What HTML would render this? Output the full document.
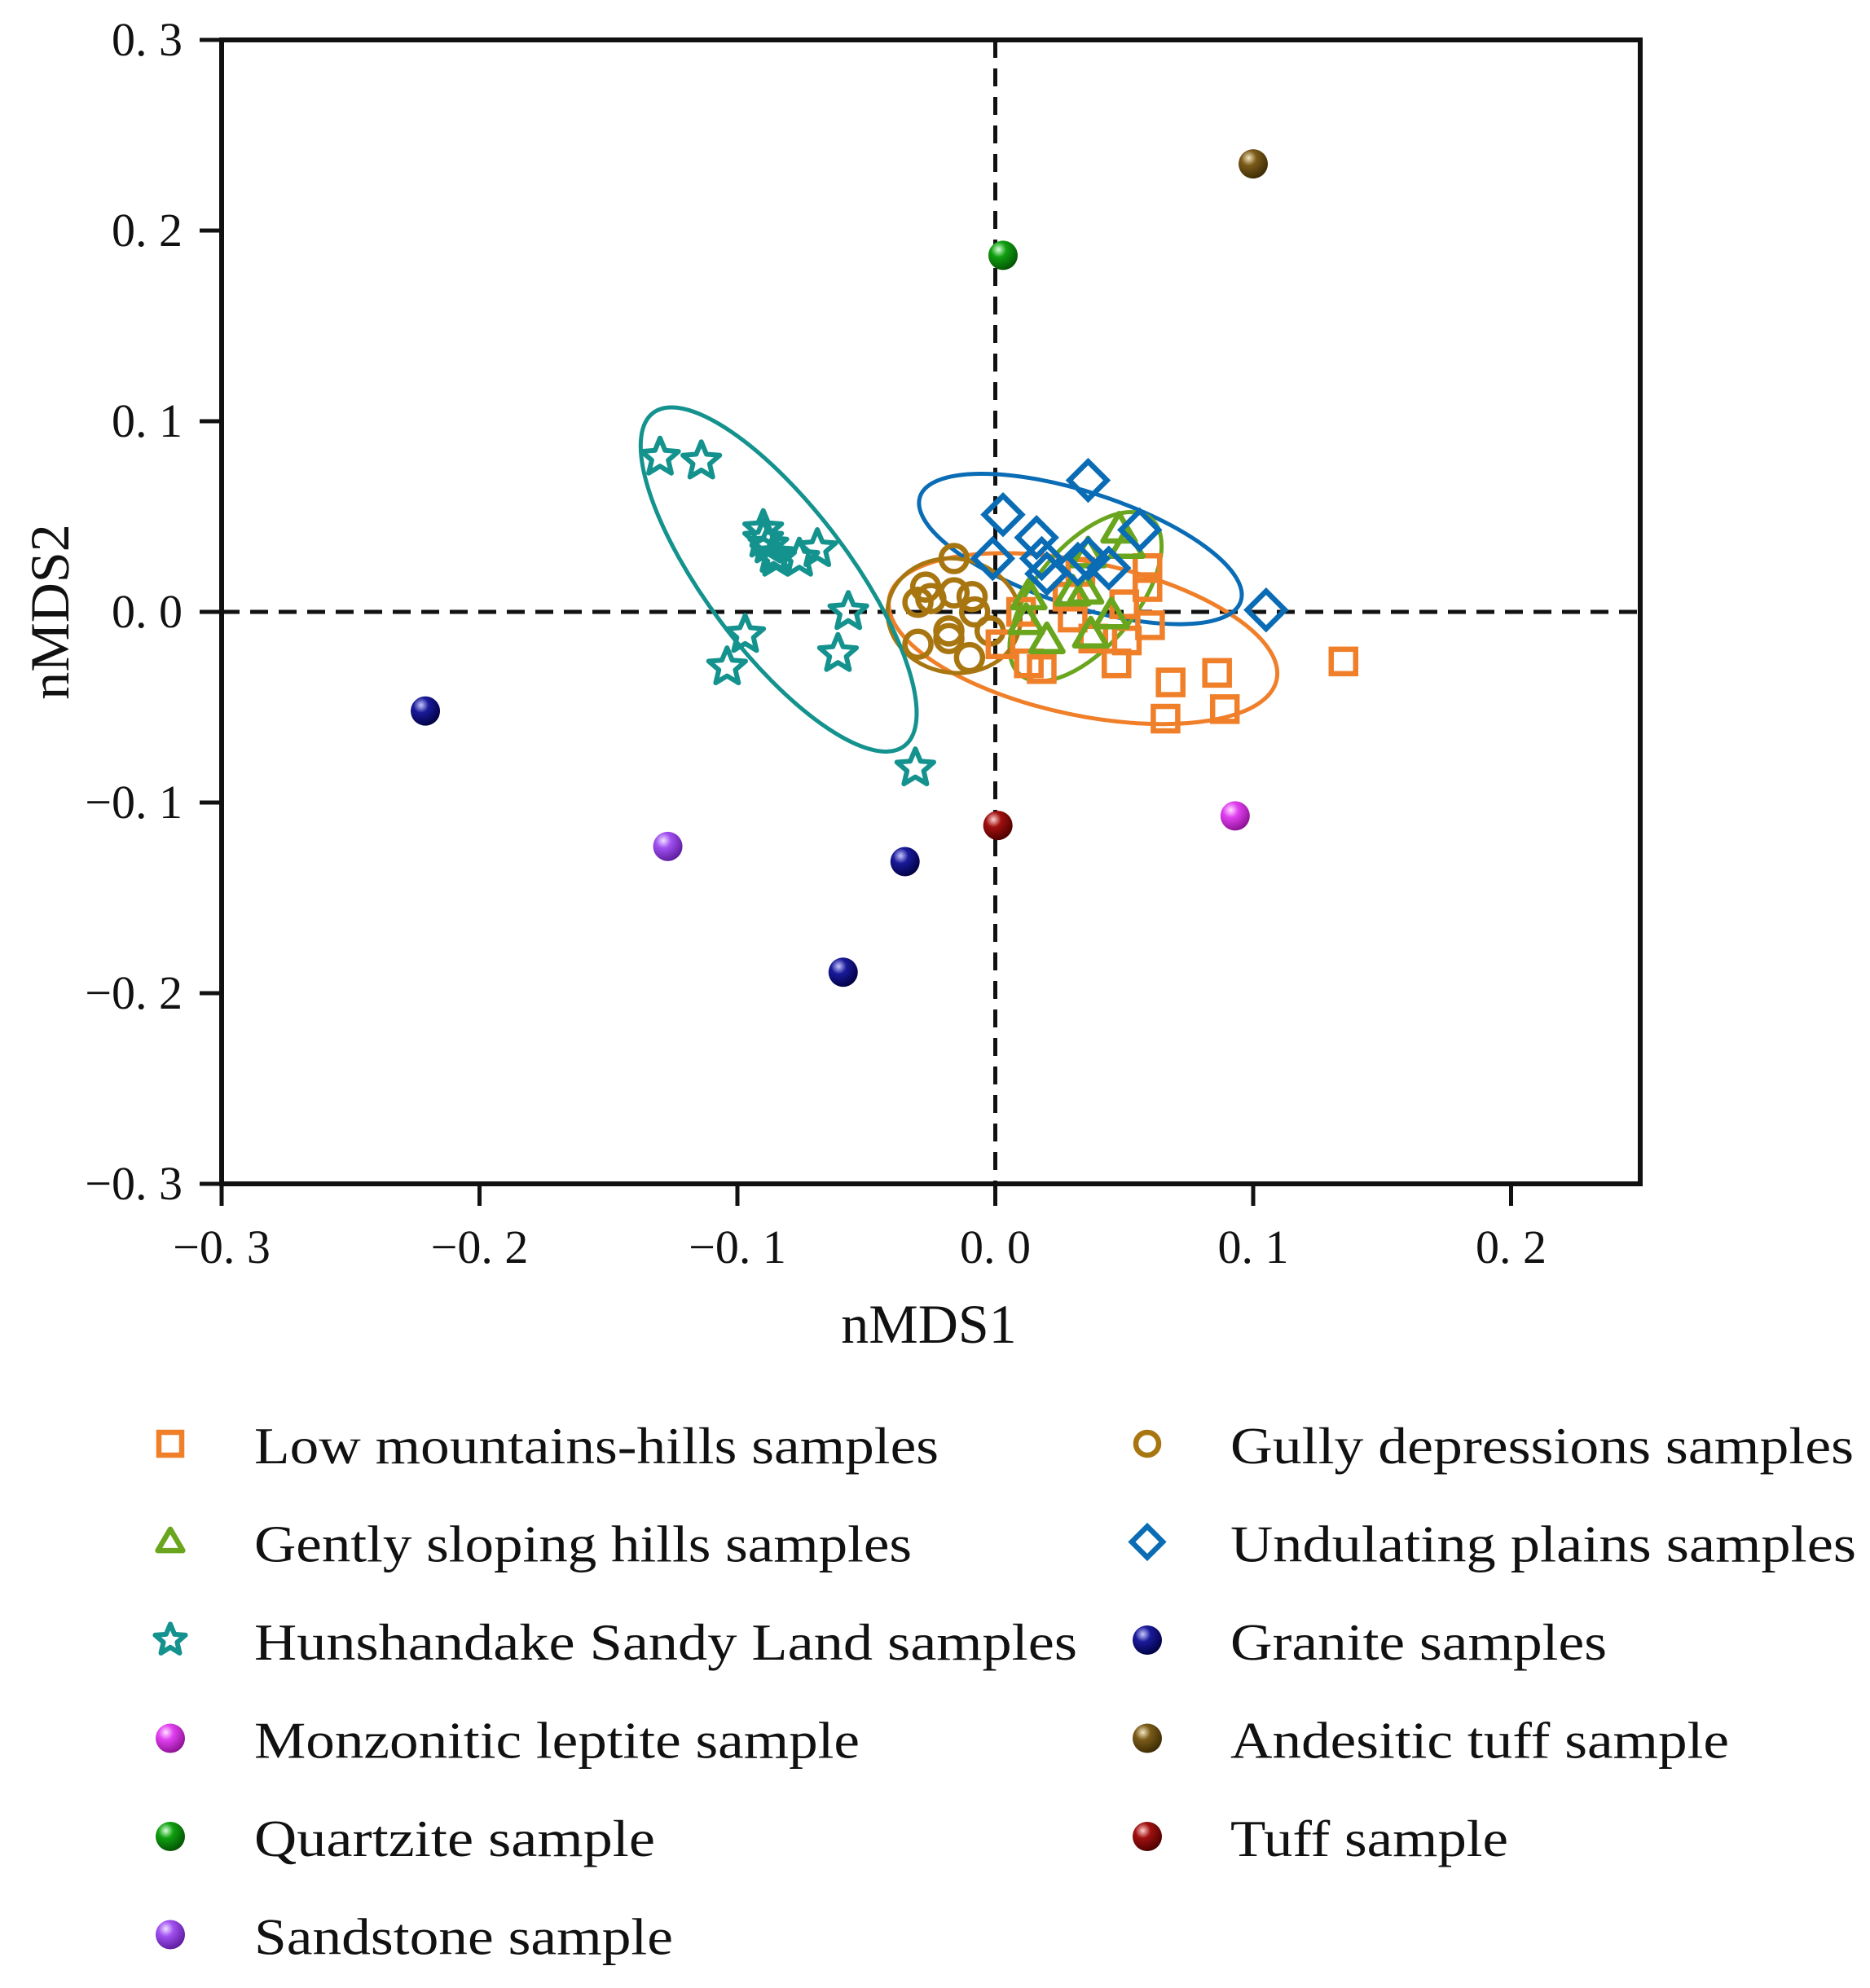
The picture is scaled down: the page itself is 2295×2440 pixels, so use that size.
<!DOCTYPE html>
<html><head><meta charset="utf-8"><style>
html,body{margin:0;padding:0;background:#fff;}
svg{display:block;}
text{font-family:"Liberation Serif",serif;fill:#111;}
</style></head><body>
<svg id="chart" width="2295" height="2440" viewBox="0 0 2295 2440" xmlns="http://www.w3.org/2000/svg">
<defs>
<radialGradient id="g-navy" cx="0.35" cy="0.3" r="0.75"><stop offset="0" stop-color="#c8c8ff"/><stop offset="0.35" stop-color="#1a1a9a"/><stop offset="1" stop-color="#000040"/></radialGradient>
<radialGradient id="g-magenta" cx="0.35" cy="0.3" r="0.75"><stop offset="0" stop-color="#ffe0ff"/><stop offset="0.35" stop-color="#e040f0"/><stop offset="1" stop-color="#8a1090"/></radialGradient>
<radialGradient id="g-green" cx="0.35" cy="0.3" r="0.75"><stop offset="0" stop-color="#d8ffd8"/><stop offset="0.35" stop-color="#10a010"/><stop offset="1" stop-color="#035003"/></radialGradient>
<radialGradient id="g-purple" cx="0.35" cy="0.3" r="0.75"><stop offset="0" stop-color="#f0e0ff"/><stop offset="0.35" stop-color="#a050f0"/><stop offset="1" stop-color="#5a1a9a"/></radialGradient>
<radialGradient id="g-brown" cx="0.35" cy="0.3" r="0.75"><stop offset="0" stop-color="#f5e6c0"/><stop offset="0.35" stop-color="#7a5a18"/><stop offset="1" stop-color="#3a2a05"/></radialGradient>
<radialGradient id="g-red" cx="0.35" cy="0.3" r="0.75"><stop offset="0" stop-color="#ffd0d0"/><stop offset="0.35" stop-color="#a01010"/><stop offset="1" stop-color="#4a0000"/></radialGradient>
</defs>
<g id="plot"></g>
<g id="legend"></g>
</svg>
<script>
// ---- data ----
const xTicks = [-0.3, -0.2, -0.1, 0.0, 0.1, 0.2];
const yTicks = [0.3, 0.2, 0.1, 0.0, -0.1, -0.2, -0.3];
const xTickLabels = ["\u22120. 3", "\u22120. 2", "\u22120. 1", "0. 0", "0. 1", "0. 2"];
const yTickLabels = ["0. 3", "0. 2", "0. 1", "0. 0", "\u22120. 1", "\u22120. 2", "\u22120. 3"];

const lowX = [0.135,0.089,0.086,0.068,0.066,0.047,0.051,0.050,0.059,0.059,0.060,0.030,0.018,0.013,0.002,0.038,0.010,0.028,0.033];
const lowY = [-0.026,-0.051,-0.032,-0.037,-0.056,-0.027,-0.015,0.004,0.013,0.023,-0.007,-0.003,-0.030,-0.027,-0.017,-0.014,0.000,0.008,0.021];
const gentX = [0.048,0.051,0.036,0.035,0.013,0.012,0.020,0.037,0.045,0.030];
const gentY = [0.043,0.035,0.030,0.011,0.008,-0.005,-0.015,-0.012,-0.002,0.010];
const hunX = [-0.130,-0.114,-0.090,-0.088,-0.085,-0.076,-0.069,-0.057,-0.097,-0.104,-0.061,-0.031,-0.090,-0.086];
const hunY = [0.081,0.079,0.043,0.035,0.028,0.028,0.033,0.000,-0.012,-0.029,-0.022,-0.082,0.038,0.030];
const gullyX = [-0.016,-0.027,-0.030,-0.016,-0.009,-0.008,-0.018,-0.018,-0.030,-0.002,-0.010,-0.025];
const gullyY = [0.028,0.013,0.005,0.010,0.008,0.000,-0.010,-0.014,-0.017,-0.010,-0.024,0.007];
const undX = [0.036,0.003,0.016,-0.001,0.018,0.020,0.032,0.036,0.044,0.056,0.105];
const undY = [0.069,0.051,0.039,0.028,0.028,0.020,0.025,0.028,0.023,0.043,0.001];
const graniteX = [-0.221,-0.035,-0.059];
const graniteY = [-0.052,-0.131,-0.189];
const monzX = [0.093], monzY = [-0.107];
const quartzX = [0.003], quartzY = [0.187];
const sandX = [-0.127], sandY = [-0.123];
const andesX = [0.100], andesY = [0.235];
const tuffX = [0.001], tuffY = [-0.112];
// ellipse centres (data units)
const ellCx = [0.034, 0.033, 0.035, -0.016, -0.084];
const ellCy = [-0.014, 0.033, 0.008, -0.002, 0.017];

// ---- axes ----
const L=272, R=2013, T=49, B=1453;
const X = v => 1221.5 + v*3165;
const Y = v => 751 - v*2340;
const NS="http://www.w3.org/2000/svg";
const plot=document.getElementById('plot');
const legend=document.getElementById('legend');
function mk(tag, attrs, parent){const e=document.createElementNS(NS,tag);for(const k in attrs)e.setAttribute(k,attrs[k]);(parent||plot).appendChild(e);return e;}

const COL={low:"#f07f2a",gent:"#6aa51e",hun:"#14928e",gully:"#a87610",und:"#0a6cb5"};

let d1=mk('line',{x1:L,x2:R,y1:Y(0),y2:Y(0),stroke:"#111","stroke-width":5,"stroke-dasharray":"22 13"});


let d2=mk('line',{x1:X(0),x2:X(0),y1:T,y2:B,stroke:"#111","stroke-width":5,"stroke-dasharray":"22 13"});



const ellCols=[COL.low,COL.und,COL.gent,COL.gully,COL.hun];
const ellNames=['ellipse-low-mountains','ellipse-undulating-plains','ellipse-gently-sloping','ellipse-gully','ellipse-hunshandake'];
const ellRx=[243,207,125,82,256], ellRy=[94,70,62,70,88], ellA=[12,18,-50,10,53];
for(let i=0;i<ellCx.length;i++){
  const cx=X(ellCx[i]), cy=Y(ellCy[i]);
  const e=mk('ellipse',{cx:cx,cy:cy,rx:ellRx[i],ry:ellRy[i],transform:`rotate(${ellA[i]} ${cx} ${cy})`,fill:"none",stroke:ellCols[i],"stroke-width":5});
  
  
}

function square(x,y,c,p,s){return mk('rect',{x:x-s/2,y:y-s/2,width:s,height:s,fill:"none",stroke:c,"stroke-width":6.5},p);}
function tri(x,y,c,p,s){const h=s*0.9;return mk('polygon',{points:`${x},${y-h*0.62} ${x-s*0.55},${y+h*0.42} ${x+s*0.55},${y+h*0.42}`,fill:"none",stroke:c,"stroke-width":6.5,"stroke-linejoin":"round"},p);}
function circ(x,y,c,p,s){return mk('circle',{cx:x,cy:y,r:s/2,fill:"none",stroke:c,"stroke-width":6.5},p);}
function diam(x,y,c,p,s){const r=s*0.68;return mk('polygon',{points:`${x},${y-r} ${x+r},${y} ${x},${y+r} ${x-r},${y}`,fill:"none",stroke:c,"stroke-width":6.5},p);}
function star(x,y,c,p,s){let pts=[];const ro=s*0.7,ri=ro*0.45;for(let k=0;k<10;k++){const r=k%2?ri:ro;const a=-Math.PI/2+k*Math.PI/5;pts.push((x+r*Math.cos(a)).toFixed(1)+","+(y+r*Math.sin(a)).toFixed(1));}return mk('polygon',{points:pts.join(' '),fill:"none",stroke:c,"stroke-width":6,"stroke-linejoin":"round"},p);}
function sphere(x,y,g,p,s){return mk('circle',{cx:x,cy:y,r:s/2,fill:`url(#${g})`},p);}

const groups=[
 [gullyX,gullyY,circ,COL.gully,'gully-point',32],
 [lowX,lowY,square,COL.low,'low-mountains-point',30],
 [gentX,gentY,tri,COL.gent,'gently-sloping-point',36],
 [undX,undY,diam,COL.und,'undulating-plains-point',34],
 [hunX,hunY,star,COL.hun,'hunshandake-point',34],
 [graniteX,graniteY,sphere,'g-navy','granite-point',36],
 [monzX,monzY,sphere,'g-magenta','monzonitic-leptite-point',36],
 [quartzX,quartzY,sphere,'g-green','quartzite-point',36],
 [sandX,sandY,sphere,'g-purple','sandstone-point',36],
 [andesX,andesY,sphere,'g-brown','andesitic-tuff-point',36],
 [tuffX,tuffY,sphere,'g-red','tuff-point',36]
];
for(const g of groups){
  for(let i=0;i<g[0].length;i++){
    const el=g[2](X(g[0][i]),Y(g[1][i]),g[3],plot,g[5]);
    
    
  }
}

let fr=mk('rect',{x:L,y:T,width:R-L,height:B-T,fill:"none",stroke:"#111","stroke-width":6});


xTicks.forEach((v,i)=>{
  const t=mk('line',{x1:X(v),x2:X(v),y1:B,y2:B+27,stroke:"#111","stroke-width":5});
  
  
  const tx=mk('text',{x:X(v),y:1550,"text-anchor":"middle","font-size":58});
  tx.textContent=xTickLabels[i];
  
  
});
yTicks.forEach((v,i)=>{
  const t=mk('line',{x1:L-27,x2:L,y1:Y(v),y2:Y(v),stroke:"#111","stroke-width":5});
  
  
  const tx=mk('text',{x:224,y:Y(v)+19,"text-anchor":"end","font-size":58});
  tx.textContent=yTickLabels[i];
  
  
});
let xt=mk('text',{x:1140,y:1648,"text-anchor":"middle","font-size":68});
xt.textContent="nMDS1";


let yt=mk('text',{x:0,y:0,"text-anchor":"middle","font-size":68,transform:"translate(84 751) rotate(-90)"});
yt.textContent="nMDS2";



// legend
const legLabels=["Low mountains-hills samples","Gently sloping hills samples","Hunshandake Sandy Land samples","Monzonitic leptite sample","Quartzite sample","Sandstone sample","Gully depressions samples","Undulating plains samples","Granite samples","Andesitic tuff sample","Tuff sample"];
const legW=[840,807,1010,743,492,514,765,768,462,612,341];
const legF=[[square,COL.low],[tri,COL.gent],[star,COL.hun],[sphere,'g-magenta'],[sphere,'g-green'],[sphere,'g-purple'],[circ,COL.gully],[diam,COL.und],[sphere,'g-navy'],[sphere,'g-brown'],[sphere,'g-red']];
legLabels.forEach((lab,i)=>{
  const col=i<6?0:1, row=i<6?i:i-6;
  const ix=col?1408:209, tx=col?1510:312, by=1796+row*120.5;
  const ic=legF[i][0](ix,by-24,legF[i][1],legend,legF[i][0]===sphere?36:28);
  
  
  const t=mk('text',{x:tx,y:by,"font-size":64,textLength:legW[i],lengthAdjust:"spacingAndGlyphs"},legend);
  t.textContent=lab;
  
  
});
</script>
</body></html>
